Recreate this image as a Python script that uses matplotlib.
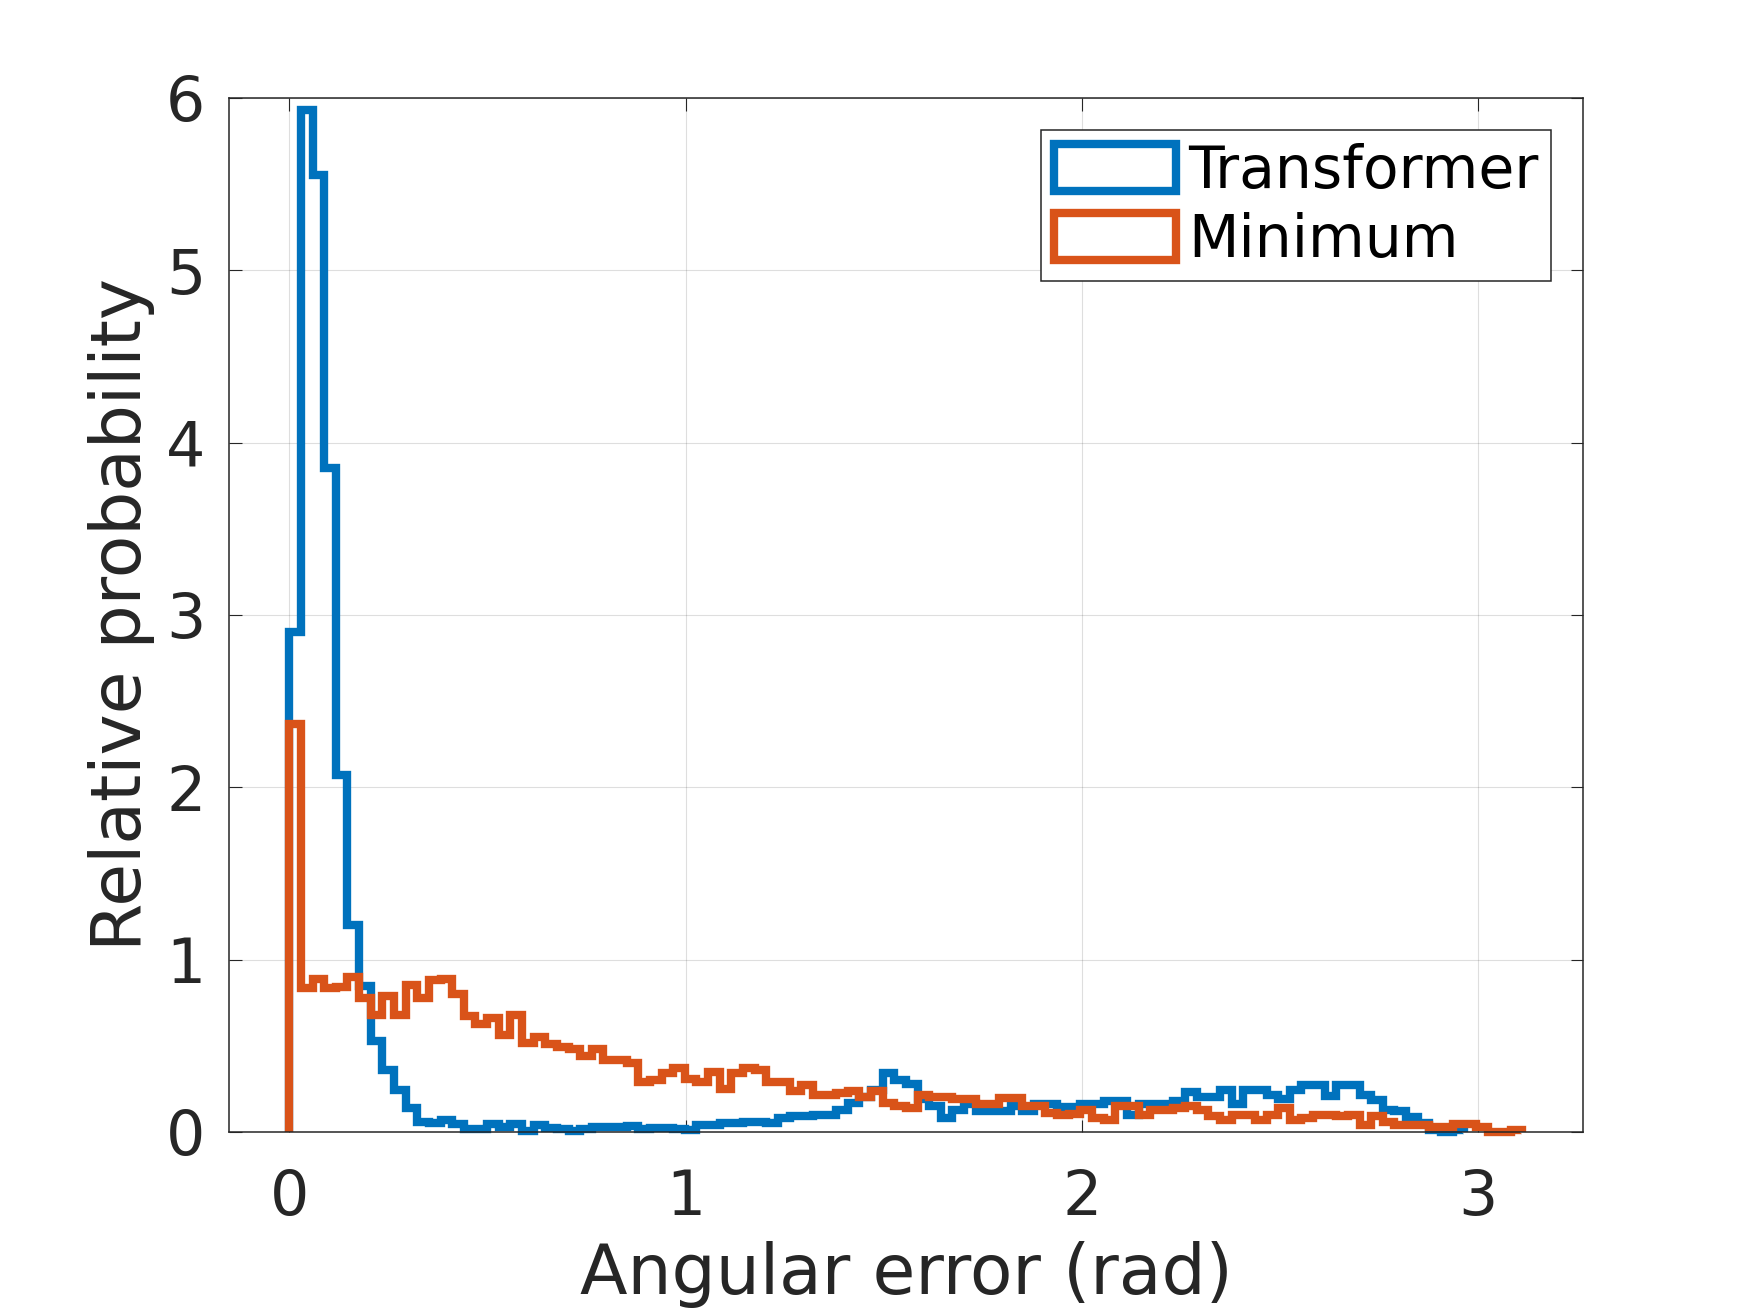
import matplotlib
matplotlib.use('Agg')
import matplotlib.pyplot as plt
from matplotlib.patches import Patch
import numpy as np


# histogram bin width (rad), both series share it
bin_width = 0.02935

transformer = [
    2.9, 5.93, 5.55, 3.85, 2.07, 1.20, 0.845, 0.53, 0.36, 0.245,
    0.14, 0.06, 0.05, 0.07, 0.045, 0.015, 0.015, 0.045, 0.03, 0.045,
    0.005, 0.04, 0.025, 0.015, 0.005, 0.015, 0.03, 0.03, 0.03, 0.035,
    0.015, 0.02, 0.02, 0.015, 0.01, 0.04, 0.04, 0.05, 0.05, 0.06,
    0.06, 0.05, 0.08, 0.09, 0.09, 0.10, 0.10, 0.13, 0.17, 0.20,
    0.245, 0.34, 0.30, 0.28, 0.19, 0.15, 0.08, 0.13, 0.16, 0.12,
    0.12, 0.12, 0.15, 0.12, 0.16, 0.16, 0.145, 0.145, 0.16, 0.16,
    0.18, 0.18, 0.10, 0.16, 0.16, 0.16, 0.18, 0.23, 0.20, 0.20,
    0.245, 0.16, 0.245, 0.245, 0.215, 0.19, 0.245, 0.275, 0.275, 0.21,
    0.275, 0.275, 0.215, 0.185, 0.13, 0.12, 0.085, 0.05, 0.01, 0.0,
    0.01,
]

minimum = [
    2.37, 0.835, 0.89, 0.835, 0.84, 0.90, 0.78, 0.68, 0.79, 0.68,
    0.85, 0.78, 0.88, 0.89, 0.80, 0.67, 0.625, 0.66, 0.56, 0.68,
    0.515, 0.55, 0.51, 0.49, 0.48, 0.44, 0.48, 0.42, 0.42, 0.40,
    0.29, 0.30, 0.34, 0.37, 0.31, 0.29, 0.35, 0.25, 0.34, 0.37,
    0.36, 0.29, 0.29, 0.235, 0.275, 0.215, 0.215, 0.225, 0.235, 0.20,
    0.235, 0.17, 0.15, 0.14, 0.215, 0.20, 0.20, 0.19, 0.19, 0.16,
    0.16, 0.195, 0.195, 0.15, 0.15, 0.11, 0.10, 0.105, 0.128, 0.08,
    0.07, 0.148, 0.148, 0.10, 0.128, 0.128, 0.138, 0.148, 0.128, 0.09,
    0.07, 0.10, 0.10, 0.07, 0.10, 0.138, 0.07, 0.08, 0.10, 0.10,
    0.09, 0.10, 0.04, 0.09, 0.06, 0.04, 0.04, 0.04, 0.03, 0.03,
    0.045, 0.045, 0.03, 0.0, 0.0, 0.01,
]

labels = ['Transformer', 'Minimum']
xticks = [0, 1, 2, 3]
yticks = [0, 1, 2, 3, 4, 5, 6]

BLUE = '#0072BD'
ORANGE = '#D95319'
AXCOL = '#262626'
LW = 6.0


def draw_hist(ax, values, color):
    edges = np.arange(len(values) + 1) * bin_width
    st = ax.stairs(values, edges, baseline=0, color=color, linewidth=LW, clip_on=False)
    st.set_joinstyle('miter')
    return st


def plot_errors():
    plt.rcParams['font.family'] = ['DejaVu Sans']
    fig = plt.figure(figsize=(17.5, 13.13), dpi=100)
    ax = fig.add_axes([0.1309, 0.1379, 0.7737, 0.7875])

    draw_hist(ax, transformer, BLUE)
    draw_hist(ax, minimum, ORANGE)

    ax.set_xlim(-0.152, 3.264)
    ax.set_ylim(0, 6)
    ax.set_xticks(xticks)
    ax.set_yticks(yticks)

    ax.grid(True, color=AXCOL, alpha=0.15, linewidth=0.8)
    ax.set_axisbelow(True)
    for sp in ax.spines.values():
        sp.set_color(AXCOL)
        sp.set_linewidth(1.1)
    ax.tick_params(direction='in', length=9, width=0.8, top=True, right=True,
                   labelsize=44.5, colors=AXCOL)
    ax.tick_params(axis='x', pad=26)
    ax.tick_params(axis='y', pad=17)

    ax.set_xlabel('Angular error (rad)', fontsize=50, color=AXCOL, labelpad=9)
    ax.set_ylabel('Relative probability', fontsize=50, color=AXCOL, labelpad=8)

    handles = [Patch(facecolor='white', edgecolor=c, linewidth=LW, joinstyle='miter')
               for c in (BLUE, ORANGE)]
    leg = ax.legend(handles, labels, loc='upper right', fontsize=42,
                    handlelength=2.1, handleheight=0.85, handletextpad=0.2,
                    labelspacing=0.2, borderpad=0.22, borderaxespad=0.55,
                    fancybox=False, framealpha=1, edgecolor=AXCOL)
    leg.get_frame().set_linewidth(1.1)

    fig.savefig('out.png', dpi=100)


if __name__ == '__main__':
    plot_errors()
